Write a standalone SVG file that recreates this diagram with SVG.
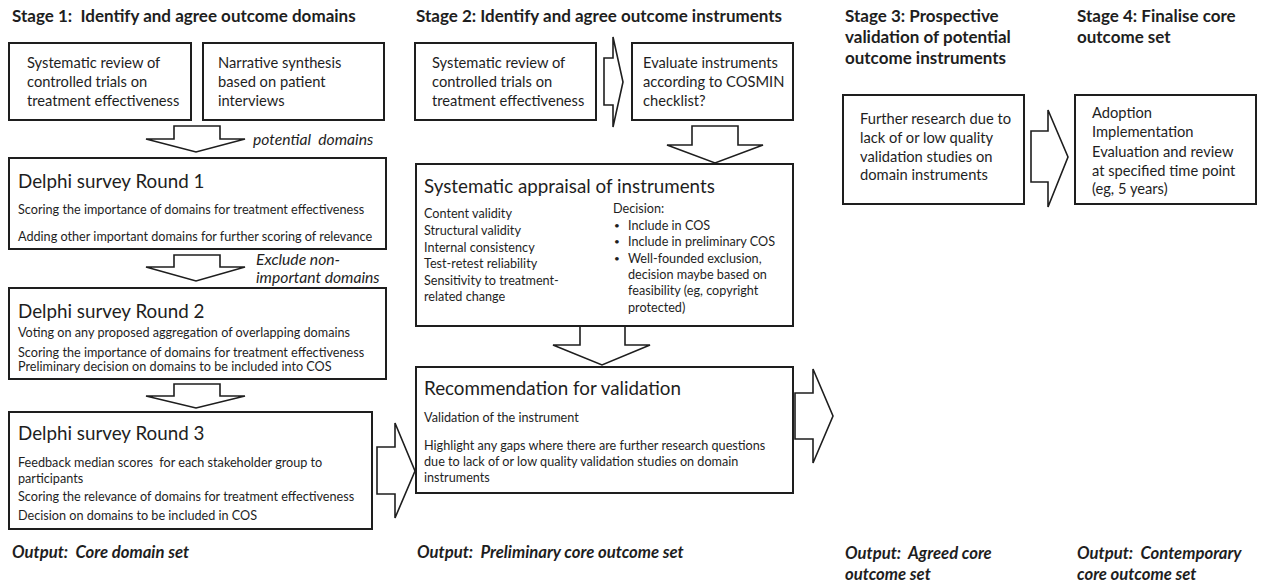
<svg xmlns="http://www.w3.org/2000/svg" width="1262" height="585" viewBox="0 0 1262 585" xml:space="preserve">
<style>
text{font-family:Lato,"Liberation Sans",sans-serif;fill:#1e1e1e;white-space:pre}
.h{font-weight:bold;font-size:17px}
.o{font-weight:bold;font-style:italic;font-size:16.7px}
.b{font-size:14.7px}
.t{font-size:18.8px}
.s{font-size:12.65px}
.bul{font-size:10px}
.i{font-style:italic;font-size:15.7px}
.box{fill:#fff;stroke:#1e1e1e;stroke-width:2}
.arr{fill:#fff;stroke:#1e1e1e;stroke-width:1.6;stroke-linejoin:miter}
</style>
<rect width="1262" height="585" fill="#fff"/>
<g id="headings">
<text class="h" x="12" y="22">Stage 1:  Identify and agree outcome domains</text>
<text class="h" x="416" y="22">Stage 2: Identify and agree outcome instruments</text>
<text class="h" x="845" y="22">Stage 3: Prospective</text>
<text class="h" x="845" y="43">validation of potential</text>
<text class="h" x="845" y="64">outcome instruments</text>
<text class="h" x="1077" y="22">Stage 4: Finalise core</text>
<text class="h" x="1077" y="43">outcome set</text>
</g>
<g id="connectors">
<polygon class="arr" points="174,126 220,126 220,139 245,139 196,152 146,139 174,139"/>
<polygon class="arr" points="174,255 220,255 220,267 245,267 196,281 146,267 174,267"/>
<polygon class="arr" points="174,384 220,384 220,396 245,396 196,408 146,396 174,396"/>
<polygon class="arr" points="377,447 395,447 395,423 415,471 395,518 395,494 377,494"/>
<polygon class="arr" points="604,58 613,58 613,37 623,82 613,127 613,105 604,105"/>
<polygon class="arr" points="692,126 738,126 738,145 763,145 715,163 667,145 692,145"/>
<polygon class="arr" points="580,326 625,326 625,345 650,345 602,365 553,345 580,345"/>
<polygon class="arr" points="795,393 813,393 813,369 833,416 813,463 813,439 795,439"/>
<polygon class="arr" points="1031,131 1048,131 1048,110 1068,157 1048,207 1048,182 1031,182"/>
<text class="i" x="253" y="145">potential  domains</text>
<text class="i" x="256" y="265">Exclude non-</text>
<text class="i" x="256" y="283">important domains</text>
</g>
<g id="s1-review">
<rect class="box" x="9" y="43" width="182" height="77"/>
<text class="b" x="27" y="68">Systematic review of</text>
<text class="b" x="27" y="87">controlled trials on</text>
<text class="b" x="27" y="106">treatment effectiveness</text>
</g>
<g id="s1-narrative">
<rect class="box" x="203" y="43" width="181" height="77"/>
<text class="b" x="218" y="68">Narrative synthesis</text>
<text class="b" x="218" y="87">based on patient</text>
<text class="b" x="218" y="106">interviews</text>
</g>
<g id="delphi1">
<rect class="box" x="9" y="158" width="377" height="91"/>
<text class="t" x="18" y="188">Delphi survey Round 1</text>
<text class="s" x="18" y="214">Scoring the importance of domains for treatment effectiveness</text>
<text class="s" x="18" y="241">Adding other important domains for further scoring of relevance</text>
</g>
<g id="delphi2">
<rect class="box" x="9" y="288" width="377" height="91"/>
<text class="t" x="18" y="318">Delphi survey Round 2</text>
<text class="s" x="18" y="337">Voting on any proposed aggregation of overlapping domains</text>
<text class="s" x="18" y="357">Scoring the importance of domains for treatment effectiveness</text>
<text class="s" x="18" y="371">Preliminary decision on domains to be included into COS</text>
</g>
<g id="delphi3">
<rect class="box" x="9" y="412" width="363" height="117"/>
<text class="t" x="18" y="440">Delphi survey Round 3</text>
<text class="s" x="18" y="467">Feedback median scores  for each stakeholder group to</text>
<text class="s" x="18" y="483">participants</text>
<text class="s" x="18" y="501">Scoring the relevance of domains for treatment effectiveness</text>
<text class="s" x="18" y="520">Decision on domains to be included in COS</text>
</g>
<g id="s2-review">
<rect class="box" x="415" y="43" width="181" height="77"/>
<text class="b" x="432" y="68">Systematic review of</text>
<text class="b" x="432" y="87">controlled trials on</text>
<text class="b" x="432" y="106">treatment effectiveness</text>
</g>
<g id="s2-evaluate">
<rect class="box" x="632" y="43" width="161" height="77"/>
<text class="b" x="643" y="68">Evaluate instruments</text>
<text class="b" x="643" y="87">according to COSMIN</text>
<text class="b" x="643" y="106">checklist?</text>
</g>
<g id="appraisal">
<rect class="box" x="416" y="164" width="377" height="162"/>
<text class="t" x="424" y="193">Systematic appraisal of instruments</text>
<text class="s" x="424" y="218">Content validity</text>
<text class="s" x="424" y="235">Structural validity</text>
<text class="s" x="424" y="252">Internal consistency</text>
<text class="s" x="424" y="268">Test-retest reliability</text>
<text class="s" x="424" y="285">Sensitivity to treatment-</text>
<text class="s" x="424" y="301">related change</text>
<text class="s" x="613" y="213">Decision:</text>
<text class="bul" x="614" y="229">•</text>
<text class="s" x="628" y="230">Include in COS</text>
<text class="bul" x="614" y="245">•</text>
<text class="s" x="628" y="246">Include in preliminary COS</text>
<text class="bul" x="614" y="262">•</text>
<text class="s" x="628" y="263">Well-founded exclusion,</text>
<text class="s" x="628" y="279">decision maybe based on</text>
<text class="s" x="628" y="295">feasibility (eg, copyright</text>
<text class="s" x="628" y="312">protected)</text>
</g>
<g id="recommendation">
<rect class="box" x="416" y="367" width="377" height="126"/>
<text class="t" x="424" y="395">Recommendation for validation</text>
<text class="s" x="424" y="422">Validation of the instrument</text>
<text class="s" x="424" y="450">Highlight any gaps where there are further research questions</text>
<text class="s" x="424" y="466">due to lack of or low quality validation studies on domain</text>
<text class="s" x="424" y="482">instruments</text>
</g>
<g id="s3-research">
<rect class="box" x="843" y="95" width="181" height="109"/>
<text class="b" x="860" y="124">Further research due to</text>
<text class="b" x="860" y="143">lack of or low quality</text>
<text class="b" x="860" y="162">validation studies on</text>
<text class="b" x="860" y="180">domain instruments</text>
</g>
<g id="s4-finalise">
<rect class="box" x="1075" y="95" width="181" height="109"/>
<text class="b" x="1092" y="118">Adoption</text>
<text class="b" x="1092" y="137">Implementation</text>
<text class="b" x="1092" y="157">Evaluation and review</text>
<text class="b" x="1092" y="176">at specified time point</text>
<text class="b" x="1092" y="194">(eg, 5 years)</text>
</g>
<g id="outputs">
<text class="o" x="12" y="558">Output:  Core domain set</text>
<text class="o" x="417" y="558">Output:  Preliminary core outcome set</text>
<text class="o" x="845" y="559">Output:  Agreed core</text>
<text class="o" x="845" y="580">outcome set</text>
<text class="o" x="1077" y="559">Output:  Contemporary</text>
<text class="o" x="1077" y="580">core outcome set</text>
</g>
</svg>
